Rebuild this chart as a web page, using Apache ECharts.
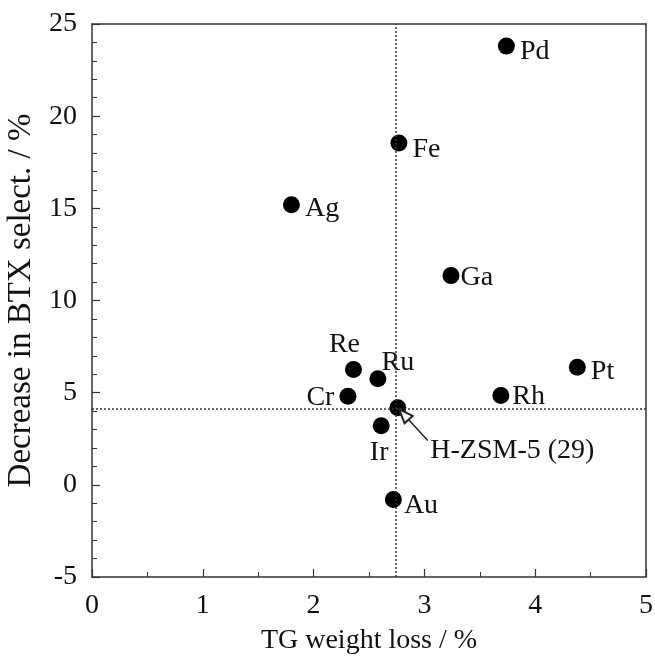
<!DOCTYPE html>
<html>
<head>
<meta charset="utf-8">
<script src="https://cdn.jsdelivr.net/npm/echarts@6/dist/echarts.min.js"></script>
<style>
  html, body { margin: 0; padding: 0; background: #fff; }
  #chart { width: 655px; height: 657px; }
</style>
</head>
<body>
<div id="chart"></div>
<script>
// Catalyst metals and their values
const metals = ['Pd', 'Fe', 'Ag', 'Ga', 'Pt', 'Rh', 'Re', 'Ru', 'Cr', 'H-ZSM-5 (29)', 'Ir', 'Au'];
const tgLoss = [3.74, 2.77, 1.80, 3.24, 4.38, 3.69, 2.36, 2.58, 2.31, 2.76, 2.61, 2.72];
const btxDecrease = [23.8, 18.55, 15.2, 11.35, 6.38, 4.85, 6.26, 5.75, 4.81, 4.18, 3.2, -0.8];

// reference lines through H-ZSM-5
const refX = 2.74;
const refY = 4.15;

const xTicks = [0, 1, 2, 3, 4, 5];
const yTicks = [-5, 0, 5, 10, 15, 20, 25];

// where each label sits relative to its dot
const labelPos = {
    'Pd': ['right', [0, 6]],
    'Fe': ['right', [0, 7]],
    'Ag': ['right', [0, 4]],
    'Ga': ['right', [-4, 2]],
    'Pt': ['right', [0, 4]],
    'Rh': ['right', [-2, 1]],
    'Re': ['top', [-9, 3]],
    'Ru': ['top', [20, 11]],
    'Cr': ['left', [0, 1]],
    'H-ZSM-5 (29)': ['right', [19, 43]],
    'Ir': ['bottom', [-2, -1]],
    'Au': ['right', [-3, 6]]
};

const font = 'Liberation Serif';
const ink = '#111';
const chart = echarts.init(document.getElementById('chart'));

const points = metals.map(function (name, i) {
    return {
        name: name,
        value: [tgLoss[i], btxDecrease[i]],
        label: { position: labelPos[name][0], offset: labelPos[name][1] }
    };
});

// top and right edges of the frame, no ticks
const boxAxis = {
    axisLine: { show: true, onZero: false, lineStyle: { color: '#333', width: 1.5 } },
    axisTick: { show: false },
    axisLabel: { show: false },
    splitLine: { show: false }
};

const option = {
    animation: false,
    grid: { left: 92, right: 9, top: 24, bottom: 80, outerBoundsMode: 'none', containLabel: false },
    xAxis: [{
        type: 'value',
        min: xTicks[0],
        max: xTicks[xTicks.length - 1],
        interval: 1,
        name: 'TG weight loss / %',
        nameLocation: 'middle',
        nameGap: 50,
        nameTextStyle: { fontFamily: font, fontSize: 28, color: ink },
        axisLine: { onZero: false, lineStyle: { color: '#333', width: 1.5 } },
        axisTick: { inside: true, length: 8, lineStyle: { color: '#333', width: 1.2 } },
        minorTick: { show: true, splitNumber: 2, length: 5, lineStyle: { color: '#333', width: 1 } },
        axisLabel: { fontFamily: font, fontSize: 28, color: ink, margin: 15 },
        splitLine: { show: false }
    }, Object.assign({ type: 'value', position: 'top', min: 0, max: 5 }, boxAxis)],
    yAxis: [{
        type: 'value',
        min: yTicks[0],
        max: yTicks[yTicks.length - 1],
        interval: 5,
        name: 'Decrease in BTX select. / %',
        nameLocation: 'middle',
        nameGap: 53,
        nameTextStyle: { fontFamily: font, fontSize: 33, color: ink },
        axisLine: { onZero: false, lineStyle: { color: '#333', width: 1.5 } },
        axisTick: { inside: true, length: 8, lineStyle: { color: '#333', width: 1.2 } },
        minorTick: { show: true, splitNumber: 5, length: 5, lineStyle: { color: '#333', width: 1 } },
        axisLabel: { fontFamily: font, fontSize: 28, color: ink, margin: 15 },
        splitLine: { show: false }
    }, Object.assign({ type: 'value', position: 'right', min: -5, max: 25 }, boxAxis)],
    series: [{
        type: 'scatter',
        symbol: 'circle',
        symbolSize: 17,
        itemStyle: { color: '#000', opacity: 1 },
        label: {
            show: true,
            formatter: '{b}',
            fontFamily: font,
            fontSize: 28,
            color: ink
        },
        data: points,
        markLine: {
            silent: true,
            symbol: 'none',
            label: { show: false },
            lineStyle: { color: '#333', type: [2, 2], width: 1.5 },
            data: [
                { xAxis: refX },
                { yAxis: refY },
                [
                    { coord: [3.03, 2.40], symbol: 'none', lineStyle: { type: 'solid', color: '#222', width: 1.5 } },
                    { coord: [2.815, 3.82], symbol: 'emptyTriangle', symbolSize: [11, 14] }
                ]
            ]
        }
    }]
};

chart.setOption(option);
</script>
</body>
</html>
